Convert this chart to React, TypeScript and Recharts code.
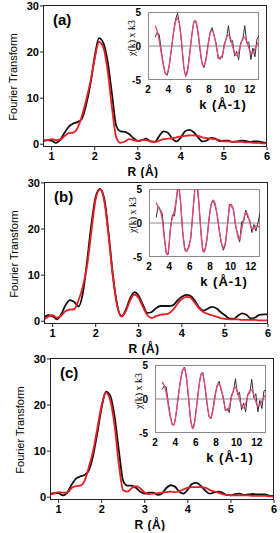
import { LineChart, Line, XAxis, YAxis, ReferenceLine } from 'recharts';

// R grid (Å) shared by the three Fourier transform panels
const R_VALUES = [
  0.8, 0.9, 1.0, 1.1, 1.2, 1.3, 1.4, 1.5, 1.6, 1.7,
  1.8, 1.9, 2.0, 2.1, 2.2, 2.3, 2.4, 2.5, 2.6, 2.7,
  2.8, 2.9, 3.0, 3.1, 3.2, 3.3, 3.4, 3.5, 3.6, 3.7,
  3.8, 3.9, 4.0, 4.1, 4.2, 4.3, 4.4, 4.5, 4.6, 4.7,
  4.8, 4.9, 5.0, 5.1, 5.2, 5.3, 5.4, 5.5, 5.6, 5.7,
  5.8, 5.9, 6.0,
];

const FT_EXP_A = [
  0.8, 0.9, 0.8, 0.3, 1.0, 2.5, 3.8, 4.5, 4.8, 5.5,
  8.5, 13, 19, 23.0, 22.0, 18, 11, 4, 2.8, 2.7,
  2.2, 1.3, 0.7, 0.9, 1.2, 0.6, 0.5, 1.8, 2.8, 2.5,
  1.2, 0.6, 1.5, 2.8, 3.1, 2.6, 1.5, 0.6, 0.8, 1.4,
  1.2, 0.7, 0.8, 0.8, 0.5, 0.6, 0.8, 0.7, 0.5, 0.6,
  0.6, 0.4, 0.3,
];
const FT_FIT_A = [
  0.6, 0.9, 1.1, 0.9, 1.0, 1.8, 2.4, 2.5, 3.5, 6,
  9.5, 13.5, 18.5, 22.2, 21.0, 16, 8, 1.5, 0.3, 0.6,
  1.1, 0.9, 0.7, 0.9, 0.9, 0.6, 0.5, 0.8, 1.1, 1.2,
  1.3, 1.5, 1.7, 1.8, 1.9, 1.9, 1.8, 1.5, 1.3, 1.2,
  1.1, 0.9, 0.6, 0.6, 0.5, 0.5, 0.5, 0.4, 0.4, 0.3,
  0.3, 0.2, 0.2,
];
const FT_EXP_B = [
  0.9, 1.3, 1.1, 0.4, 1.5, 3.5, 4.6, 4.2, 3.2, 6,
  13, 21, 27, 28.7, 26.5, 19, 10, 3.5, 1.1, 2.5,
  5, 6.3, 5.5, 3.5, 1.8, 2.0, 2.8, 3.3, 3.3, 3.3,
  3.5, 4.5, 5.3, 5.7, 5.5, 4.5, 3.0, 2.3, 2.7, 3.1,
  2.8, 2.0, 1.3, 0.6, 0.5, 1.2, 1.7, 1.4, 0.6, 0.8,
  1.4, 1.5, 1.5,
];
const FT_FIT_B = [
  0.4, 1.0, 1.3, 0.8, 1.2, 2.2, 2.5, 2.6, 4.5, 7.5,
  12, 19.5, 26.5, 28.6, 26, 18.5, 9.5, 3.3, 1.0, 2.2,
  4.5, 5.8, 5.0, 3.0, 1.3, 0.7, 1.1, 1.4, 1.5, 1.7,
  2.5, 3.8, 4.8, 5.3, 5.1, 4.0, 2.8, 2.0, 1.6, 1.3,
  1.0, 0.7, 0.5, 0.4, 0.4, 0.4, 0.3, 0.3, 0.3, 0.3,
  0.2, 0.2, 0.2,
];
const FT_EXP_C = [
  0.7, 0.9, 0.9, 0.4, 1.0, 2.7, 4.0, 4.5, 4.8, 5.8,
  9, 14, 19.5, 22.9, 22.0, 17.5, 10, 3.5, 2.5, 2.5,
  2.0, 1.2, 0.8, 1.0, 1.0, 0.5, 0.8, 2.0, 2.6, 2.3,
  1.2, 0.8, 1.7, 2.9, 3.1, 2.5, 1.5, 0.8, 1.0, 1.2,
  1.0, 0.5, 0.4, 0.7, 0.8, 0.5, 0.6, 0.7, 0.6, 0.6,
  0.6, 0.3, 0.3,
];
const FT_FIT_C = [
  0.6, 0.8, 1.1, 1.0, 1.0, 2.0, 2.4, 2.5, 3.5, 6.5,
  10, 15, 20, 22.7, 21.0, 15.5, 7, 1.5, 1.2, 2.0,
  2.4, 1.9, 1.0, 0.7, 0.8, 0.9, 1.0, 1.1, 1.2, 1.1,
  1.3, 1.7, 2.1, 2.2, 2.2, 2.2, 2.1, 1.6, 1.3, 1.0,
  0.7, 0.5, 0.4, 0.4, 0.4, 0.4, 0.4, 0.3, 0.3, 0.3,
  0.3, 0.2, 0.2,
];

// k grid (Å-1) shared by the insets
const K_VALUES = [
  2.7, 2.9, 3.1, 3.3, 3.5, 3.7, 3.9, 4.1, 4.3, 4.5,
  4.7, 4.9, 5.1, 5.3, 5.5, 5.7, 5.9, 6.1, 6.3, 6.5,
  6.7, 6.9, 7.1, 7.3, 7.5, 7.7, 7.9, 8.1, 8.3, 8.5,
  8.7, 8.9, 9.1, 9.3, 9.5, 9.7, 9.9, 10.1, 10.3, 10.5,
  10.7, 10.9, 11.1, 11.3, 11.5, 11.7, 11.9, 12.1, 12.3, 12.5,
  12.7, 12.9,
];

const CHI_EXP_A = [
  1.3, 2.0, 1.7, -0.6, -2.6, -4.1, -4.3, -2.8, -0.5, 2.0,
  3.9, 4.8, 3.2, 0.4, -3.0, -4.5, -3.4, -1.0, 1.6, 3.6,
  3.7, 2.0, -0.5, -2.6, -3.2, -1.8, 0.3, 2.0, 2.7, 1.4,
  0.3, -1.9, -1.6, -1.7, 0.4, 1.0, 3.0, 0.6, 0.8, -1.5,
  -0.8, -2.0, 0.5, 0.9, 3.0, 0.4, 0.6, -2.0, -0.3, -1.6,
  1.0, 1.5,
];
const CHI_FIT_A = [
  3.0, 2.2, 0.8, -1.0, -2.8, -4.0, -4.0, -2.6, -0.4, 1.8,
  3.5, 4.1, 3.0, 0.6, -2.8, -4.3, -3.6, -1.2, 1.5, 3.4,
  3.6, 2.2, -0.2, -2.4, -2.9, -2.0, 0.0, 1.8, 2.3, 1.6,
  0.0, -1.5, -1.9, -1.3, 0.0, 1.2, 1.6, 1.1, 0.0, -1.0,
  -1.4, -0.9, 0.2, 1.1, 1.3, 0.7, -0.3, -1.0, -1.0, -0.4,
  0.2, 0.5,
];
const CHI_EXP_B = [
  0.8, 2.5, 2.0, 1.4, -1.8, -4.5, -4.6, -0.8, 1.2, 1.0,
  3.5, 5.6, 3.2, -1.2, -3.6, -4.2, -3.4, -2.3, 1.3, 5.0,
  5.8, 2.8, -1.2, -4.2, -3.8, -2.4, 0.8, 2.8, 3.4, 2.5,
  1.2, -1.0, -3.0, -4.0, -3.2, -0.2, 2.8, 2.4, 2.0, -0.5,
  -1.5, -2.8, 0.2, 0.2, 1.9, 0.8, 0.4, -1.4, -0.2, -1.2,
  0.0, 1.5,
];
const CHI_FIT_B = [
  3.0, 2.4, 1.8, 0.5, -2.2, -4.3, -4.2, -1.0, 0.8, 1.8,
  3.8, 5.5, 3.0, -1.0, -3.8, -4.1, -3.6, -2.0, 1.5, 4.8,
  5.8, 3.0, -1.5, -4.0, -4.0, -2.2, 0.5, 2.6, 3.3, 2.8,
  1.0, -1.2, -2.8, -3.6, -2.8, -0.5, 2.2, 2.7, 1.8, -0.2,
  -1.9, -2.4, -1.0, 0.6, 1.5, 1.2, 0.0, -0.8, -0.8, -0.4,
  -0.5, -0.6,
];
const CHI_EXP_C = [
  1.4, 1.9, 1.8, -0.5, -2.4, -3.8, -3.7, -2.0, 0.5, 2.8,
  4.3, 4.7, 3.1, 0.0, -3.2, -4.4, -3.3, -0.8, 1.7, 3.6,
  3.9, 1.8, -0.7, -2.6, -2.9, -1.3, 0.6, 2.0, 2.6, 1.2,
  0.4, -1.7, -1.4, -2.0, 0.6, 1.0, 3.0, 0.6, 1.0, -1.6,
  -0.6, -1.9, 0.7, 0.8, 2.9, 0.2, 0.8, -1.9, -0.2, -1.4,
  1.2, 1.3,
];
const CHI_FIT_C = [
  2.5, 2.0, 0.9, -0.9, -2.6, -3.7, -3.6, -1.8, 0.6, 2.6,
  4.1, 4.5, 3.0, 0.2, -3.0, -4.3, -3.4, -1.0, 1.6, 3.5,
  3.6, 2.0, -0.4, -2.4, -2.7, -1.6, 0.3, 1.8, 2.2, 1.5,
  0.0, -1.3, -1.7, -1.1, 0.2, 1.3, 1.7, 1.1, -0.1, -1.0,
  -1.3, -0.7, 0.4, 1.2, 1.3, 0.6, -0.4, -1.0, -0.9, -0.3,
  0.3, 0.6,
];

const R_TICKS = [1, 2, 3, 4, 5, 6];
const FT_TICKS = [0, 10, 20, 30];
const K_TICKS = [2, 4, 6, 8, 10, 12];
const CHI_TICKS = [-5, 0, 5];

const PANELS = [
  { letter: '(a)', ftExp: FT_EXP_A, ftFit: FT_FIT_A, chiExp: CHI_EXP_A, chiFit: CHI_FIT_A, left: 0, top: 0 },
  { letter: '(b)', ftExp: FT_EXP_B, ftFit: FT_FIT_B, chiExp: CHI_EXP_B, chiFit: CHI_FIT_B, left: 1, top: 177 },
  { letter: '(c)', ftExp: FT_EXP_C, ftFit: FT_FIT_C, chiExp: CHI_EXP_C, chiFit: CHI_FIT_C, left: 7, top: 353 },
];

const FONT = '"Liberation Sans", Arial, sans-serif';
const mainTick = { fontSize: 11, fontWeight: 700, fill: '#000', fontFamily: FONT };
const insetTick = { fontSize: 10, fontWeight: 700, fill: '#000', fontFamily: FONT };

function Panel({ panel }: { panel: (typeof PANELS)[number] }) {
  const ftRows = R_VALUES.map((r, i) => ({ r, exp: panel.ftExp[i], fit: panel.ftFit[i] }));
  const chiRows = K_VALUES.map((k, i) => ({ k, exp: panel.chiExp[i], fit: panel.chiFit[i] }));

  return (
    <div style={{ position: 'absolute', left: panel.left, top: panel.top, width: 280, height: 178 }}>
      <LineChart width={280} height={178} data={ftRows} margin={{ top: 5, right: 13, left: 0, bottom: 0 }}>
        <XAxis
          type="number"
          dataKey="r"
          domain={[0.8, 6]}
          ticks={R_TICKS}
          allowDataOverflow
          height={31}
          axisLine={false}
          tickLine={{ stroke: '#222' }}
          tickSize={3}
          tickMargin={2}
          tick={mainTick}
          label={{
            content: () => (
              <text x={143} y={176} textAnchor="middle" fontSize={12} fontWeight={700} fontFamily={FONT} letterSpacing={0.5} fill="#000">
                R (Å)
              </text>
            ),
          }}
        />
        <YAxis
          type="number"
          domain={[-0.6, 30.2]}
          ticks={FT_TICKS}
          width={43}
          axisLine={false}
          tickLine={{ stroke: '#222' }}
          tickSize={3}
          tickMargin={1}
          tick={mainTick}
          label={{
            content: () => (
              <text x={13} y={77} transform="rotate(-90 13 77)" textAnchor="middle" dominantBaseline="central" fontSize={11} fontFamily={FONT} fill="#000">
                Fourier Transform
              </text>
            ),
          }}
        />
        <Line dataKey="exp" type="monotone" stroke="#111" strokeWidth={1.8} dot={false} isAnimationActive={false} />
        <Line dataKey="fit" type="monotone" stroke="#ec1c24" strokeWidth={1.8} dot={false} isAnimationActive={false} />
      </LineChart>

      {/* main plot frame */}
      <div style={{ position: 'absolute', left: 43, top: 5, width: 224, height: 142, border: '1px solid #222', boxSizing: 'border-box' }} />

      <div style={{ position: 'absolute', left: 53, top: 12, fontSize: 15, fontWeight: 700, lineHeight: '15px', fontFamily: FONT }}>
        {panel.letter}
      </div>

      {/* inset frame + background */}
      <div style={{ position: 'absolute', left: 148, top: 12, width: 111, height: 68, background: '#fff', border: '1px solid #8a8a8a', boxSizing: 'border-box' }} />

      <div style={{ position: 'absolute', left: 118, top: 4 }}>
        <LineChart width={145} height={112} data={chiRows} margin={{ top: 8, right: 4, left: 0, bottom: 0 }}>
          <XAxis
            type="number"
            dataKey="k"
            domain={[2, 12.9]}
            ticks={K_TICKS}
            allowDataOverflow
            height={36}
            axisLine={false}
            tickLine={false}
            tickSize={3}
            tickMargin={3}
            tick={insetTick}
            label={{
              content: () => (
                <text x={105} y={105} textAnchor="middle" fontSize={13} fontWeight={700} fontFamily={FONT} letterSpacing={1} fill="#000">
                  k (Å-1)
                </text>
              ),
            }}
          />
          <YAxis
            type="number"
            domain={[-5, 5]}
            ticks={CHI_TICKS}
            allowDataOverflow
            width={30}
            axisLine={false}
            tickLine={false}
            tickSize={3}
            tickMargin={4}
            tick={insetTick}
            label={{
              content: () => (
                <text x={13} y={34} transform="rotate(-90 13 34)" textAnchor="middle" dominantBaseline="central" fontSize={10} fontFamily='"Liberation Serif", "Times New Roman", serif' fill="#000">
                  χ(k) x k3
                </text>
              ),
            }}
          />
          <ReferenceLine y={0} stroke="#8a8a8a" />
          <Line dataKey="exp" type="linear" stroke="#333" strokeWidth={1} dot={false} isAnimationActive={false} />
          <Line dataKey="fit" type="natural" stroke="#e8457c" strokeWidth={1.3} dot={false} isAnimationActive={false} />
        </LineChart>
      </div>
    </div>
  );
}

export default function App() {
  return (
    <div style={{ position: 'absolute', left: 0, top: 0, width: 280, height: 533, overflow: 'hidden', background: '#fff', fontFamily: FONT }}>
      {PANELS.map((p) => (
        <Panel key={p.letter} panel={p} />
      ))}
    </div>
  );
}
